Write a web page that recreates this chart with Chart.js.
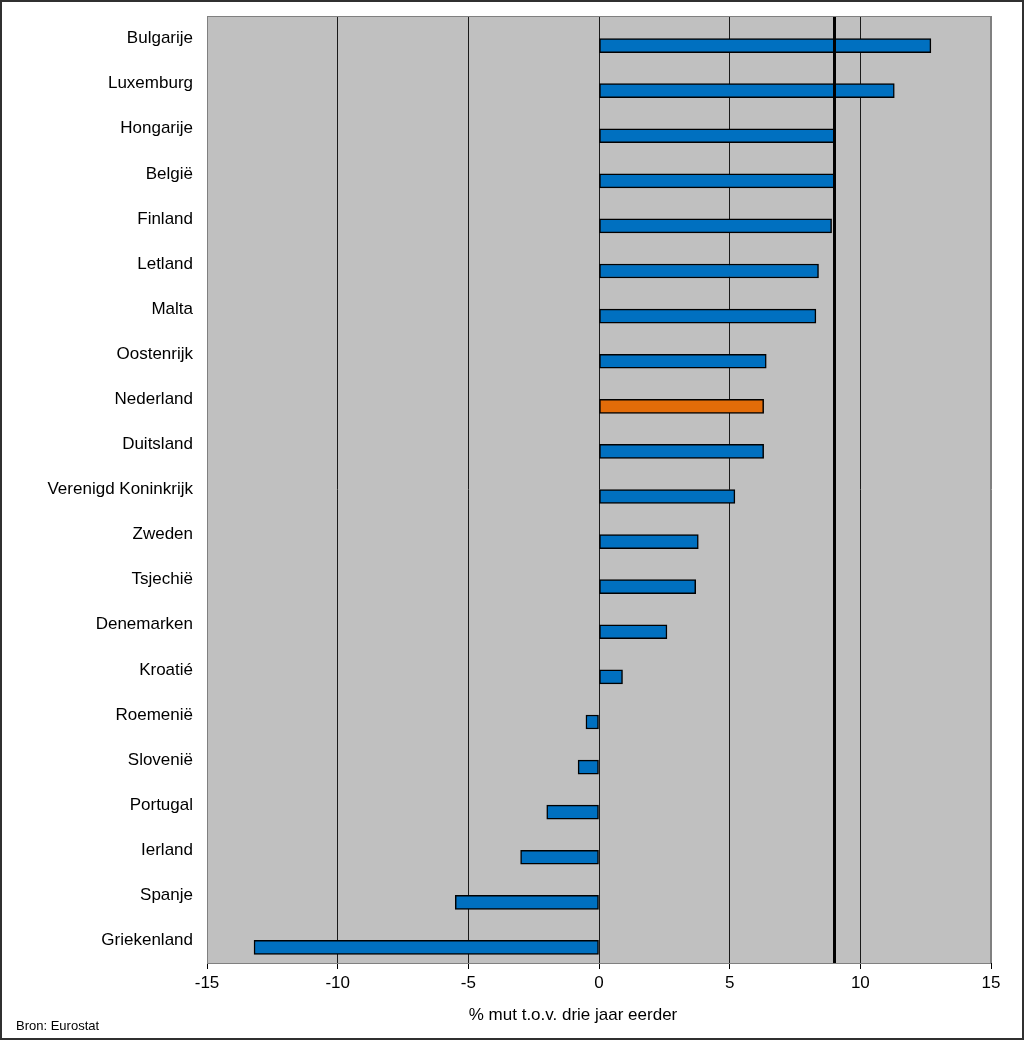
<!DOCTYPE html>
<html>
<head>
<meta charset="utf-8">
<script src="https://cdn.jsdelivr.net/npm/chart.js@4.4.1/dist/chart.umd.min.js"></script>
<style>
html,body{margin:0;padding:0;background:#fff;}
#wrap{width:1024px;height:1040px;position:relative;}
</style>
</head>
<body>
<div id="wrap"><canvas id="c" width="1024" height="1040"></canvas></div>
<script>
const categories = ["Bulgarije","Luxemburg","Hongarije","België","Finland","Letland","Malta","Oostenrijk","Nederland","Duitsland","Verenigd Koninkrijk","Zweden","Tsjechië","Denemarken","Kroatié","Roemenië","Slovenië","Portugal","Ierland","Spanje","Griekenland"];
const values = [12.7, 11.3, 9.0, 9.0, 8.9, 8.4, 8.3, 6.4, 6.3, 6.3, 5.2, 3.8, 3.7, 2.6, 0.9, -0.5, -0.8, -2.0, -3.0, -5.5, -13.2];
const highlight = "Nederland";
const referenceValue = 9.0;
const referenceSeries = categories.map(() => null);
const xTicks = [-15, -10, -5, 0, 5, 10, 15];
const axisTitle = "% mut t.o.v. drie jaar eerder";
const source = "Bron: Eurostat";

const FONT = "'Liberation Sans', Arial, sans-serif";
const barColors = categories.map(c => c === highlight ? "#E36C09" : "#0070C0");

const deco = {
  id: "deco",
  beforeDraw(chart) {
    const {ctx, chartArea: a} = chart;
    ctx.save();
    ctx.fillStyle = "#C0C0C0";
    ctx.fillRect(a.left, a.top, a.right - a.left, a.bottom - a.top);
    ctx.restore();
  },
  afterDatasetsDraw(chart) {
    const {ctx, chartArea: a, scales} = chart;
    ctx.save();
    const x = Math.round(scales.x.getPixelForValue(referenceValue)) + 0.5;
    ctx.strokeStyle = "#000";
    ctx.lineWidth = 3;
    ctx.beginPath();
    ctx.moveTo(x, a.top);
    ctx.lineTo(x, a.bottom);
    ctx.stroke();
    ctx.strokeStyle = "#808080";
    ctx.lineWidth = 1;
    ctx.strokeRect(a.left + 0.5, a.top + 0.5, a.right - a.left - 1, a.bottom - a.top);
    ctx.restore();
  },
  afterDraw(chart) {
    const {ctx} = chart;
    ctx.save();
    ctx.fillStyle = "#000";
    ctx.font = "17px " + FONT;
    ctx.textAlign = "center";
    ctx.textBaseline = "middle";
    ctx.fillText(axisTitle, 573, 1015);
    ctx.font = "13px " + FONT;
    ctx.textAlign = "left";
    ctx.fillText(source, 16, 1026);
    ctx.strokeStyle = "#303030";
    ctx.lineWidth = 2;
    ctx.strokeRect(1, 1, 1022, 1038);
    ctx.restore();
  }
};

new Chart(document.getElementById("c"), {
  type: "bar",
  data: {
    labels: categories,
    datasets: [{
      label: "referentie",
      data: referenceSeries,
      backgroundColor: "rgba(0,0,0,0)",
      borderWidth: 0,
      barThickness: 14
    }, {
      label: "% mut",
      data: values,
      backgroundColor: barColors,
      borderColor: "#000",
      borderWidth: 1.5,
      borderSkipped: false,
      barThickness: 14
    }]
  },
  options: {
    indexAxis: "y",
    responsive: false,
    animation: false,
    devicePixelRatio: 1,
    layout: {padding: {top: 16, right: 33, left: 0, bottom: 0}},
    plugins: {legend: {display: false}, tooltip: {enabled: false}},
    scales: {
      x: {
        min: -15, max: 15,
        afterBuildTicks(s) { s.ticks = xTicks.map(v => ({value: v})); },
        afterFit(s) { s.height = 77; s.paddingLeft = 0; s.paddingRight = 0; },
        grid: {
          color: ctx => (ctx.tick && (ctx.tick.value === -15 || ctx.tick.value === 15)) ? "#808080" : "#1a1a1a",
          lineWidth: 1,
          drawTicks: true,
          tickLength: 6,
          tickColor: "#000"
        },
        border: {display: true, color: "#000", width: 1},
        ticks: {color: "#000", font: {family: FONT, size: 17}, padding: 4, maxRotation: 0}
      },
      y: {
        afterFit(s) { s.width = 207; s.paddingTop = 0; s.paddingBottom = 0; },
        grid: {display: false, drawTicks: false},
        border: {display: false},
        ticks: {color: "#000", font: {family: FONT, size: 17}, padding: 14, autoSkip: false}
      }
    }
  },
  plugins: [deco]
});
</script>
</body>
</html>
